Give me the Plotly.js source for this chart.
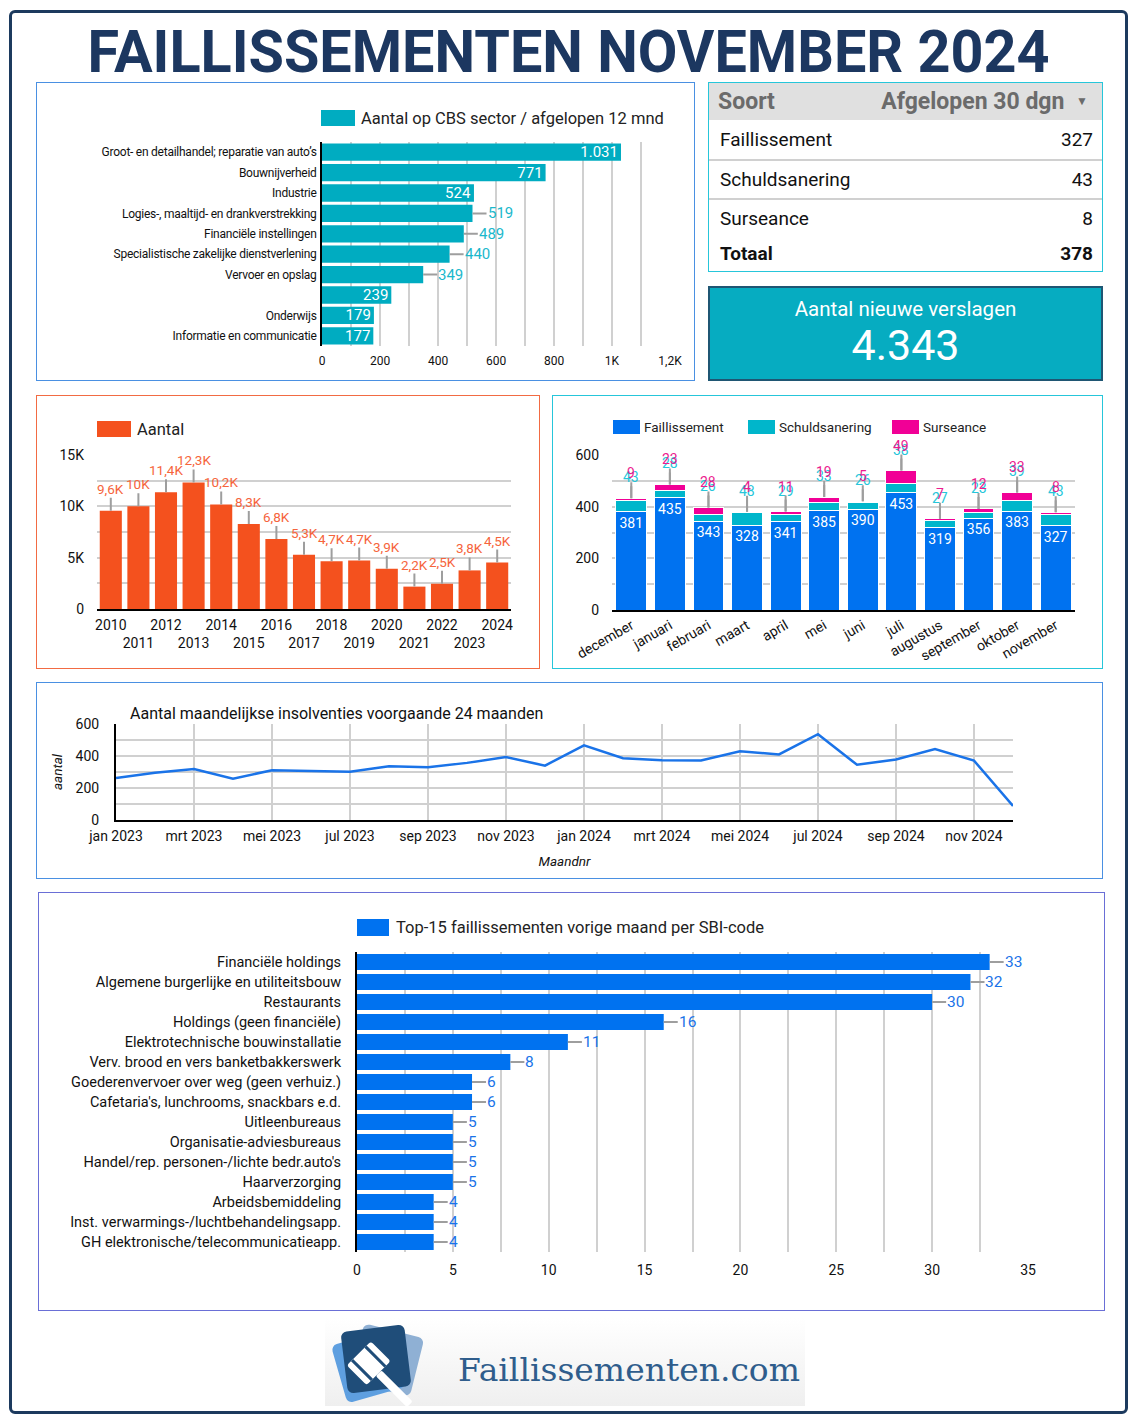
<!DOCTYPE html>
<html><head><meta charset="utf-8">
<script src="https://cdn.plot.ly/plotly-3.0.1.min.js"></script>
<style>
body{margin:0;background:#fff;font-family:Roboto,Arial,sans-serif;}
#page{position:relative;width:1138px;height:1418px;overflow:hidden;background:#fff;}
.abs{position:absolute;}
.frame{position:absolute;left:9px;top:10px;width:1119px;height:1404px;border:3px solid #1c3a5e;border-radius:6px;box-sizing:border-box;}
.border{position:absolute;box-sizing:border-box;pointer-events:none;}
.leg{position:absolute;display:flex;align-items:center;color:#222;white-space:nowrap;}
.sw{display:inline-block;}
#title{position:absolute;left:0;top:22px;width:1138px;text-align:center;font-family:Roboto;font-weight:700;font-size:60px;line-height:60px;color:#1c3760;}
#titleText{display:inline-block;transform-origin:center;white-space:nowrap;}
#p1 .ytick text{letter-spacing:-0.25px;}
.trow{position:absolute;left:11px;right:9px;display:flex;justify-content:space-between;align-items:center;font-size:19px;color:#111;}
</style></head>
<body>
<div id="page">
  <div class="frame"></div>
  <div id="title"><span id="titleText">FAILLISSEMENTEN NOVEMBER 2024</span></div>

  <div id="p1" class="abs" style="left:36px;top:82px;width:659px;height:298px;"></div>
  <div class="border" style="left:36px;top:82px;width:659px;height:299px;border:1.5px solid #4a90e2;"></div>
  <div class="leg" style="left:321px;top:110px;height:16px;font-size:16.5px;"><span class="sw" style="width:34px;height:16px;background:#00acc1;margin-right:6px;"></span><span id="leg1"></span></div>

  <div id="tbl" class="abs" style="left:708px;top:82px;width:395px;height:190px;border:1.5px solid #26c6da;box-sizing:border-box;"></div>
  <div id="kpi" class="abs" style="left:708px;top:286px;width:395px;height:95px;background:#06acc1;border:2px solid #1f5673;box-sizing:border-box;color:#fff;text-align:center;"></div>

  <div id="p2" class="abs" style="left:36px;top:395px;width:504px;height:273px;"></div>
  <div class="border" style="left:36px;top:395px;width:504px;height:274px;border:1.5px solid #f26b43;"></div>
  <div class="leg" style="left:97px;top:421px;height:16px;font-size:16.5px;"><span class="sw" style="width:34px;height:16px;background:#f4511e;margin-right:6px;"></span><span id="leg2"></span></div>

  <div id="p3" class="abs" style="left:552px;top:395px;width:551px;height:273px;"></div>
  <div class="border" style="left:552px;top:395px;width:551px;height:274px;border:1.5px solid #26c6da;"></div>
  <div id="leg3"></div>

  <div id="p4" class="abs" style="left:36px;top:682px;width:1067px;height:196px;"></div>
  <div class="border" style="left:36px;top:682px;width:1067px;height:197px;border:1.5px solid #4a90e2;"></div>

  <div id="p5" class="abs" style="left:38px;top:892px;width:1067px;height:418px;"></div>
  <div class="border" style="left:38px;top:892px;width:1067px;height:419px;border:1.5px solid #6a6fd6;"></div>
  <div class="leg" style="left:357px;top:919px;height:17px;font-size:16.5px;"><span class="sw" style="width:32px;height:17px;background:#0072f0;margin-right:7px;"></span><span id="leg5"></span></div>

  <div class="abs" style="left:325px;top:1318px;width:480px;height:88px;background:linear-gradient(#ffffff,#efefef);"></div>
  <svg class="abs" style="left:328px;top:1320px;" width="100" height="86" viewBox="0 0 100 86">
    <rect x="28" y="10" width="62" height="60" rx="6" fill="#8fb0d4" transform="rotate(14 59 40)"/>
    <rect x="10" y="16" width="62" height="60" rx="6" fill="#5e9fe0" transform="rotate(-16 41 46)"/>
    <rect x="16" y="8" width="64" height="62" rx="6" fill="#1f4d79" transform="rotate(-7 48 39)"/>
    <g transform="rotate(45 40 44)">
      <rect x="26" y="26" width="28" height="34" rx="3" fill="#fff"/>
      <rect x="26" y="32" width="28" height="3" fill="#1f4d79"/>
      <rect x="26" y="51" width="28" height="3" fill="#1f4d79"/>
      <rect x="54" y="39" width="44" height="8" rx="2" fill="#fff"/>
    </g>
  </svg>
  <div id="logoText" class="abs" style="left:458px;top:1350px;font-family:'DejaVu Serif',serif;font-size:31px;line-height:40px;color:#2f5d8c;white-space:nowrap;transform-origin:left center;">Faillissementen.com</div>
</div>
<script>
// ---------- DATA ----------
const sectorNames = ["Groot- en detailhandel; reparatie van auto’s", "Bouwnijverheid", "Industrie", "Logies-, maaltijd- en drankverstrekking", "Financiële instellingen", "Specialistische zakelijke dienstverlening", "Vervoer en opslag", "", "Onderwijs", "Informatie en communicatie"];
const sectorCounts = [1031, 771, 524, 519, 489, 440, 349, 239, 179, 177];
const sectorTickVals = [0, 200, 400, 600, 800, 1000, 1200];
const sectorTickText = ["0", "200", "400", "600", "800", "1K", "1,2K"];

const tableTypes = ["Faillissement", "Schuldsanering", "Surseance"];
const tableValues = [327, 43, 8];
const newReports = 4343;

const years = ["2010","2011","2012","2013","2014","2015","2016","2017","2018","2019","2020","2021","2022","2023","2024"];
const yearCounts = [9560, 10000, 11380, 12330, 10180, 8290, 6830, 5280, 4650, 4720, 3920, 2180, 2460, 3760, 4520];
const yearTickVals = [0, 5000, 10000, 15000];
const yearTickText = ["0", "5K", "10K", "15K"];

const months12 = ["december","januari","februari","maart","april","mei","juni","juli","augustus","september","oktober","november"];
const faillissement = [381, 435, 343, 328, 341, 385, 390, 453, 319, 356, 383, 327];
const schuldsanering = [43, 28, 26, 48, 29, 33, 26, 38, 27, 23, 39, 43];
const surseance = [9, 23, 28, 4, 11, 19, 5, 49, 7, 12, 33, 8];

const monthLabels = ["jan 2023","feb 2023","mrt 2023","apr 2023","mei 2023","jun 2023","jul 2023","aug 2023","sep 2023","okt 2023","nov 2023","dec 2023","jan 2024","feb 2024","mrt 2024","apr 2024","mei 2024","jun 2024","jul 2024","aug 2024","sep 2024","okt 2024","nov 2024","dec 2024"];
const monthlyInsolv = [262, 295, 319, 258, 311, 306, 301, 336, 329, 357, 393, 340, 467, 386, 374, 372, 429, 410, 536, 345, 378, 443, 371, 88];

const sbiNames = ["Financiële holdings","Algemene burgerlijke en utiliteitsbouw","Restaurants","Holdings (geen financiële)","Elektrotechnische bouwinstallatie","Verv. brood en vers banketbakkerswerk","Goederenvervoer over weg (geen verhuiz.)","Cafetaria's, lunchrooms, snackbars e.d.","Uitleenbureaus","Organisatie-adviesbureaus","Handel/rep. personen-/lichte bedr.auto's","Haarverzorging","Arbeidsbemiddeling","Inst. verwarmings-/luchtbehandelingsapp.","GH elektronische/telecommunicatieapp."];
const sbiCounts = [33, 32, 30, 16, 11, 8, 6, 6, 5, 5, 5, 5, 4, 4, 4];

// ---------- HELPERS ----------
const fmtNL = v => String(v).replace(/\B(?=(\d{3})+(?!\d))/g, ".");
const fmtK = v => { const k = Math.round(v / 100) / 10; return (Number.isInteger(k) ? String(k) : k.toFixed(1).replace(".", ",")) + "K"; };
const GRID = "#d0d0d0";
const FONT = {family: "Roboto, Arial, sans-serif", color: "#111"};
const cfg = {staticPlot: true, displayModeBar: false};
function leader(x, y, text, color, ax, ay, xanchor, yanchor, size) {
  return {x, y, text, showarrow: true, arrowhead: 0, arrowwidth: 2, arrowcolor: "#9e9e9e",
    ax, ay, xanchor, yanchor, font: {color, size: size || 15, family: FONT.family}, borderpad: 0, standoff: 0};
}
const base = (w, h, m) => ({width: w, height: h, margin: m, paper_bgcolor: "rgba(0,0,0,0)", plot_bgcolor: "rgba(0,0,0,0)",
  separators: ",.", font: FONT, showlegend: false});

// ---------- TITLE ----------
const tt = document.getElementById("titleText");
tt.style.transform = "scaleX(" + (962 / tt.getBoundingClientRect().width) + ")";
const lt = document.getElementById("logoText");
lt.style.transform = "scaleX(" + (342 / lt.getBoundingClientRect().width) + ")";

// ---------- TABLE + KPI ----------
(function () {
  const tbl = document.getElementById("tbl");
  let html = '<div style="position:absolute;left:0;top:0;right:0;height:37px;background:#e0e0e0;display:flex;justify-content:space-between;align-items:center;padding:0 14px 0 9px;font-weight:700;font-size:23px;color:#6b6b6b;"><span>Soort</span><span>Afgelopen 30 dgn <span style="font-size:12px;vertical-align:4px;margin-left:6px;">▼</span></span></div>';
  const tops = [37, 78, 117];
  const hs = [39, 37, 36];
  tableTypes.forEach((t, i) => {
    html += '<div class="trow" style="top:' + tops[i] + 'px;height:' + hs[i] + 'px;"><span>' + t + '</span><span>' + fmtNL(tableValues[i]) + '</span></div>';
    if (i < 2) html += '<div style="position:absolute;left:0;right:0;top:' + (tops[i] + hs[i]) + 'px;height:2px;background:#d0d0d0;"></div>';
  });
  const total = tableValues.reduce((a, b) => a + b, 0);
  html += '<div class="trow" style="top:153px;height:34px;font-weight:700;"><span>Totaal</span><span>' + fmtNL(total) + '</span></div>';
  tbl.innerHTML = html;
  document.getElementById("kpi").innerHTML =
    '<div style="position:absolute;left:0;right:0;top:8px;font-size:20.5px;line-height:26px;">Aantal nieuwe verslagen</div>' +
    '<div style="position:absolute;left:0;right:0;top:31px;font-size:43px;line-height:52px;">' + fmtNL(newReports) + '</div>';
})();

// ---------- P1: sectors ----------
document.getElementById("leg1").textContent = "Aantal op CBS sector / afgelopen 12 mnd";
(function () {
  const inside = v => v >= 520 || v < 300;
  const idx = sectorNames.map((_, i) => i);
  const trace = {type: "bar", orientation: "h", x: sectorCounts, y: idx, marker: {color: "#00acc1"},
    text: sectorCounts.map(v => inside(v) ? fmtNL(v) : ""), textposition: "inside", insidetextanchor: "end", constraintext: "none",
    insidetextfont: {color: "#fff", size: 15}, hoverinfo: "none", cliponaxis: false};
  const ann = [];
  sectorCounts.forEach((v, i) => { if (!inside(v)) ann.push(leader(v, i, fmtNL(v), "#1ab8cc", 14, 0, "left", "middle", 15)); });
  const lay = base(659, 298, {l: 286, r: 25, t: 60, b: 34});
  lay.bargap = 0.15;
  lay.xaxis = {range: [0, 1200], tickvals: sectorTickVals, ticktext: sectorTickText, showgrid: true, gridcolor: GRID, gridwidth: 2,
    minor: {tickmode: "linear", tick0: 0, dtick: 100, showgrid: true, gridcolor: GRID, gridwidth: 2}, zeroline: false, tickfont: {size: 12, color: "#111"}, ticks: "", ticklabelstandoff: 6};
  lay.yaxis = {range: [9.5, -0.5], tickvals: idx, ticktext: sectorNames, showgrid: false, showline: true, linecolor: "#000", linewidth: 2,
    layer: "above traces", tickfont: {size: 12, color: "#111"}, ticks: "", zeroline: false, ticklabelstandoff: 1};
  lay.annotations = ann;
  Plotly.newPlot("p1", [trace], lay, cfg);
})();

// ---------- P2: years ----------
document.getElementById("leg2").textContent = "Aantal";
(function () {
  const idx = years.map((_, i) => i);
  const trace = {type: "bar", x: idx, y: yearCounts, marker: {color: "#f4511e"}, hoverinfo: "none"};
  const ann = idx.map(i => leader(i, yearCounts[i], fmtK(yearCounts[i]), "#f6643c", 0, -13, "center", "bottom", 13.5));
  const lay = base(504, 273, {l: 61, r: 29, t: 60, b: 59});
  lay.bargap = 0.2;
  lay.xaxis = {type: "linear", range: [-0.5, years.length - 0.5], tickvals: idx, ticktext: years.map((y, i) => i % 2 ? "<br>" + y : y), tickangle: 0,
    tickfont: {size: 14, color: "#111"}, showgrid: false, showline: true, linecolor: "#000", linewidth: 2, ticks: "", layer: "above traces", zeroline: false, ticklabelstandoff: 2};
  lay.yaxis = {range: [0, 15000], tickvals: yearTickVals, ticktext: yearTickText, showgrid: true, gridcolor: GRID, gridwidth: 2,
    minor: {tickmode: "linear", tick0: 0, dtick: 2500, showgrid: true, gridcolor: GRID, gridwidth: 2}, zeroline: false,
    tickfont: {size: 14, color: "#111"}, ticks: "", ticklabelstandoff: 12};
  lay.annotations = ann;
  Plotly.newPlot("p2", [trace], lay, cfg);
})();

// ---------- P3: stacked months ----------
(function () {
  const cols = ["#0072f0", "#00b6cb", "#f10096"];
  const names = ["Faillissement", "Schuldsanering", "Surseance"];
  const lefts = [613, 748, 892];
  document.getElementById("leg3").innerHTML = names.map((n, i) =>
    '<div class="leg" style="left:' + lefts[i] + 'px;top:420px;height:14px;font-size:13.5px;"><span class="sw" style="width:27px;height:14px;background:' + cols[i] + ';margin-right:4px;"></span><span>' + n + '</span></div>').join("");
  const series = [faillissement, schuldsanering, surseance];
  const traces = series.map((s, i) => ({type: "bar", name: names[i], x: months12, y: s, marker: {color: cols[i], line: {color: "#fff", width: 1}},
    text: i === 0 ? s.map(String) : undefined, textposition: i === 0 ? "inside" : "none", insidetextanchor: "end", textangle: 0, constraintext: "none",
    insidetextfont: {color: "#fff", size: 14}, hoverinfo: "none"}));
  const ann = [];
  months12.forEach((m, i) => {
    const tot = faillissement[i] + schuldsanering[i] + surseance[i];
    ann.push(leader(i, tot, String(schuldsanering[i]), "#26c6da", 0, -12, "center", "bottom", 14));
    ann.push(leader(i, tot, String(surseance[i]), "#ec1c8f", 0, -16, "center", "bottom", 14));
  });
  const lay = base(551, 273, {l: 60, r: 28, t: 60, b: 58});
  lay.barmode = "stack";
  lay.bargap = 0.2;
  lay.xaxis = {type: "category", tickangle: -30, tickfont: {size: 14, color: "#111"}, showgrid: false, showline: true, linecolor: "#000", linewidth: 2, ticks: "", layer: "above traces"};
  lay.yaxis = {range: [0, 600], tickvals: [0, 200, 400, 600], showgrid: true, gridcolor: GRID, gridwidth: 2,
    minor: {tickmode: "linear", tick0: 0, dtick: 100, showgrid: true, gridcolor: GRID, gridwidth: 2}, zeroline: false,
    tickfont: {size: 14, color: "#111"}, ticks: "", ticklabelstandoff: 12};
  lay.annotations = ann;
  Plotly.newPlot("p3", traces, lay, cfg);
})();

// ---------- P4: monthly line ----------
(function () {
  const trace = {type: "scatter", mode: "lines", x: monthLabels, y: monthlyInsolv, line: {color: "#1a73e8", width: 2.5}, hoverinfo: "none"};
  const lay = base(1067, 196, {l: 80, r: 90, t: 42, b: 58});
  lay.title = {text: "Aantal maandelijkse insolventies voorgaande 24 maanden", font: {size: 16, color: "#111"}, x: 94 / 1067, xanchor: "left", xref: "container", y: 1 - 31 / 196, yanchor: "middle", yref: "container"};
  lay.xaxis = {type: "category", range: [0, monthLabels.length - 1], tickvals: monthLabels.filter((_, i) => i % 2 === 0), showgrid: true, gridcolor: GRID, gridwidth: 2,
    showline: true, linecolor: "#000", linewidth: 2, ticks: "", tickfont: {size: 14, color: "#111"}, ticklabelstandoff: 2,
    title: {text: "<i>Maandnr</i>", font: {size: 13.5, color: "#111"}, standoff: 14}};
  lay.yaxis = {range: [0, 600], tickvals: [0, 200, 400, 600], showgrid: true, gridcolor: GRID, gridwidth: 2,
    minor: {tickmode: "linear", tick0: 0, dtick: 100, showgrid: true, gridcolor: GRID, gridwidth: 2}, zeroline: false,
    showline: true, linecolor: "#000", linewidth: 2, ticks: "", tickfont: {size: 14, color: "#111"}, ticklabelstandoff: 12,
    title: {text: "<i>aantal</i>", font: {size: 13.5, color: "#111"}, standoff: 10}};
  Plotly.newPlot("p4", [trace], lay, cfg);
})();

// ---------- P5: SBI ----------
document.getElementById("leg5").textContent = "Top-15 faillissementen vorige maand per SBI-code";
(function () {
  const trace = {type: "bar", orientation: "h", x: sbiCounts, y: sbiNames, marker: {color: "#0072f0"}, hoverinfo: "none"};
  const ann = sbiNames.map((n, i) => leader(sbiCounts[i], i, String(sbiCounts[i]), "#1a73e8", 14, 0, "left", "middle", 15.5));
  const lay = base(1067, 418, {l: 319, r: 77, t: 60, b: 58});
  lay.bargap = 0.2;
  lay.xaxis = {range: [0, 35], dtick: 5, tick0: 0, showgrid: true, gridcolor: GRID, gridwidth: 2,
    minor: {tickmode: "linear", tick0: 0, dtick: 2.5, showgrid: true, gridcolor: GRID, gridwidth: 2}, zeroline: false,
    ticks: "", tickfont: {size: 14, color: "#111"}, ticklabelstandoff: 8};
  lay.yaxis = {type: "category", autorange: "reversed", showgrid: false, showline: true, linecolor: "#000", linewidth: 2, layer: "above traces",
    ticks: "", tickfont: {size: 14.5, color: "#111"}, ticklabelstandoff: 11};
  lay.annotations = ann;
  Plotly.newPlot("p5", [trace], lay, cfg);
})();
</script>
</body></html>
